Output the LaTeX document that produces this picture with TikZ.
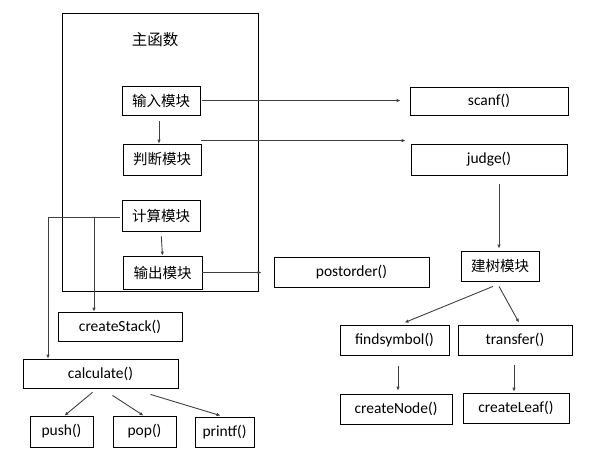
\documentclass[tikz,border=0pt]{standalone}
\usepackage{fontspec}
\setmainfont{Carlito}
\newfontfamily\cjk{Noto Sans CJK SC}
\usetikzlibrary{arrows.meta}
\usetikzlibrary{calc,positioning}

\begin{document}
\begin{tikzpicture}[x=1pt,y=-1pt,
    box/.style={draw, line width=0.8pt, inner sep=0pt, font=\fontsize{15.5}{18}\selectfont},
    zh/.style={box, font=\cjk\fontsize{14.5}{17}\selectfont},
    link/.style={draw=black!75, line width=0.9pt, -{Latex[length=4pt,width=3.5pt]}},
    plain/.style={draw=black!75, line width=0.9pt}]
    \useasboundingbox (0,0) rectangle (600,451);
    % main function frame
    \node[box, minimum width=196, minimum height=278] (mainbox) at (160,152) {};
    \node[font=\cjk\fontsize{15.5}{18}\selectfont] (title) at (155,40) {主函数};
    \node[zh, minimum width=78, minimum height=29] (input) at (161,100.5) {输入模块};
    \node[zh, minimum width=78, minimum height=31] (check) at (162,159.5) {判断模块};
    \node[zh, minimum width=78, minimum height=31] (calc) at (161,215.5) {计算模块};
    \node[zh, minimum width=79, minimum height=33] (output) at (162.5,272.5) {输出模块};

    % right side
    \node[box, minimum width=158, minimum height=28] (scanf) at (489,101) {scanf()};
    \node[box, minimum width=156, minimum height=31] (judge) at (489,159.5) {judge()};
    \node[zh, minimum width=78, minimum height=30] (tree) at (500,266) {建树模块};
    \node[box, minimum width=155, minimum height=30] (post) at (351.5,272) {postorder()};
    \node[box, minimum width=109, minimum height=30] (findsym) at (394.5,340) {findsymbol()};
    \node[box, minimum width=114, minimum height=30] (transfer) at (515,340) {transfer()};
    \node[box, minimum width=112, minimum height=30] (cnode) at (396,409) {createNode()};
    \node[box, minimum width=106, minimum height=30] (cleaf) at (516,408) {createLeaf()};

    % left side
    \node[box, minimum width=124, minimum height=29] (stack) at (120,326.5) {createStack()};
    \node[box, minimum width=155, minimum height=29] (calcu) at (100.5,373.5) {calculate()};
    \node[box, minimum width=63, minimum height=31] (push) at (61.5,431.5) {push()};
    \node[box, minimum width=63, minimum height=31] (pop) at (144.5,431.5) {pop()};
    \node[box, minimum width=59, minimum height=30] (printf) at (224.5,432) {printf()};

    % connectors inside the frame
    \draw[link, shorten <=6pt] ($(input.south)+(-2,0)$) -- ($(check.north)+(-3,0)$);
    \draw[link, shorten <=5pt] (calc.south) -- (output.north);
    \draw[link, shorten <=2pt, shorten >=9pt] (input.east) -- (scanf.west |- input.east);
    \draw[link] ($(check.north east)+(0,-3)$) -- ($(judge.north west)+(-5,-3)$);
    \draw[link, shorten >=12pt] (output.east) -- (post.west |- output.east);
    \draw[link] ($(judge.south)+(10,9)$) -- ($(tree.north)+(-1,-2)$);

    % calculation branch
    \coordinate (turn) at (48,217);
    \coordinate (split) at (94,217);
    \draw[plain] ($(calc.west)+(-2,1.5)$) -- (turn);
    \draw[link] (turn) -- (turn |- calcu.north);
    \draw[link] (split) -- (split |- stack.north);
    \draw[link] ($(calcu.south)+(-8,4)$) -- ($(push.north)+(3,0)$);
    \draw[link] ($(calcu.south)+(12,7)$) -- ($(pop.north)+(-1,0)$);
    \draw[link] ($(calcu.south)+(50,6)$) -- ($(printf.north)+(-4,-1)$);

    % tree branch
    \draw[link] ($(tree.south)+(-7,5)$) -- ($(findsym.north)+(10,-2)$);
    \draw[link] ($(tree.south)+(-1,5)$) -- ($(transfer.north)+(4,-2)$);
    \draw[link] ($(findsym.south)+(3.5,11)$) -- ($(cnode.north)+(2,-3)$);
    \draw[link] ($(transfer.south)+(-1,10)$) -- ($(cleaf.north)+(-2,-1)$);
\end{tikzpicture}
\end{document}
